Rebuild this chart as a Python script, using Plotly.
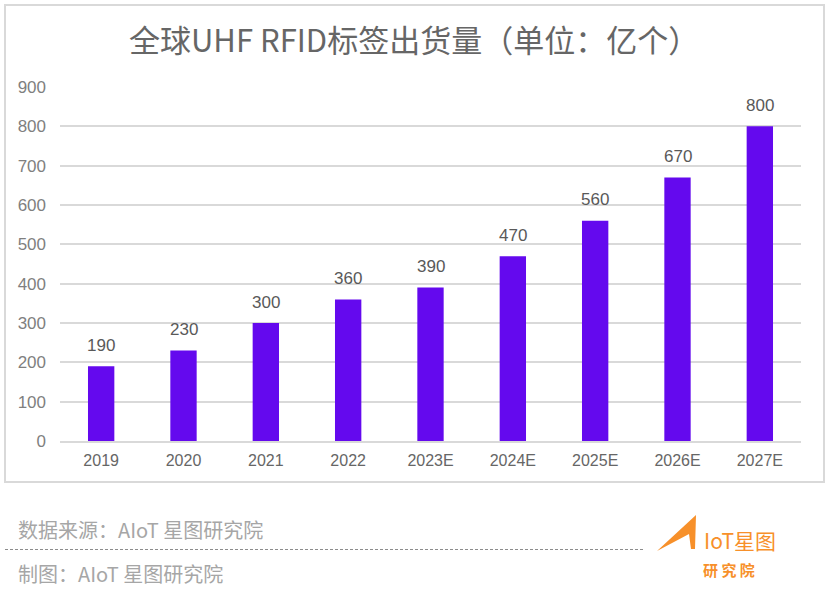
import plotly.graph_objects as go

W, H = 830, 591
categories = ["2019", "2020", "2021", "2022", "2023E", "2024E", "2025E", "2026E", "2027E"]
shipments = [190, 230, 300, 360, 390, 470, 560, 670, 800]
y_ticks = [0, 100, 200, 300, 400, 500, 600, 700, 800, 900]
title = "全球UHF RFID标签出货量（单位：亿个）"
source_note = "数据来源：AIoT 星图研究院"
made_note = "制图：AIoT 星图研究院"
CJK = "Noto Sans CJK SC, Noto Sans, sans-serif"
LAT = "Liberation Sans, Arial, sans-serif"

def px(x): return x / W
def py(y): return 1 - y / H

fig = go.Figure(go.Bar(
    x=categories, y=shipments, width=0.32,
    marker=dict(color="#6409EE", line_width=0),
))

shapes = [
    dict(type="rect", xref="paper", yref="paper", x0=px(5), x1=px(824), y0=py(482), y1=py(5),
         line=dict(color="#D9D9D9", width=2), fillcolor="rgba(0,0,0,0)", layer="below"),
    dict(type="line", xref="paper", yref="paper", x0=px(5), x1=px(645), y0=py(549.5), y1=py(549.5),
         line=dict(color="#8C8C8C", width=1, dash="3px,2px")),
    dict(type="path", xref="paper", yref="paper", fillcolor="#F7902A", line_width=0,
         path=f"M {px(657)} {py(551)} L {px(696)} {py(515)} L {px(695)} {py(549)} L {px(691)} {py(549)} "
              f"L {px(689)} {py(534)} Z"),
]

def note(x, y, text, size, color, family=CJK, anchor="left"):
    return dict(xref="paper", yref="paper", x=px(x), y=py(y), text=text, showarrow=False,
                xanchor=anchor, yanchor="middle", font=dict(family=family, size=size, color=color))

annotations = [
    note(414, 39, title, 31, "#666666", anchor="center"),
    note(16, 529, source_note, 20, "#A6A6A6"),
    note(16, 573, made_note, 20, "#A6A6A6"),
    note(702, 540, "IoT星图", 21, "#F7902A"),
    note(729, 569, "<b>研 究 院</b>", 15, "#F7902A", anchor="center"),
]
for i, v in enumerate(shipments):
    annotations.append(dict(xref="x", yref="y", x=i, y=v, text=str(v), showarrow=False,
                            xanchor="center", yanchor="middle", yshift=21,
                            font=dict(family=LAT, size=17, color="#595959")))

fig.update_layout(
    width=W, height=H, autosize=False,
    margin=dict(l=0, r=0, t=0, b=0, pad=0, autoexpand=False),
    paper_bgcolor="white", plot_bgcolor="white",
    showlegend=False, bargap=0.68,
    shapes=shapes, annotations=annotations,
    xaxis=dict(domain=[px(60), px(801)], type="category", showgrid=False, ticks="",
               automargin=False, categoryorder="array", categoryarray=categories,
               range=[-0.5, 8.5], tickvals=categories, ticktext=categories,
               showline=True, linecolor="#D9D9D9", linewidth=1.5,
               tickfont=dict(family=LAT, size=16, color="#666666"), ticklabelstandoff=4),
    yaxis=dict(domain=[py(441), py(87)], range=[0, 900], tickvals=y_ticks,
               automargin=False,
               gridcolor="#D9D9D9", gridwidth=1.5, zeroline=False, ticks="",
               tickfont=dict(family=LAT, size=17, color="#7F7F7F"), ticklabelstandoff=13),
)
fig.write_html("out.html", config=dict(displayModeBar=False),
               post_script="document.body.style.margin='0';document.documentElement.style.overflow='hidden';window.dispatchEvent(new Event('resize'));")
